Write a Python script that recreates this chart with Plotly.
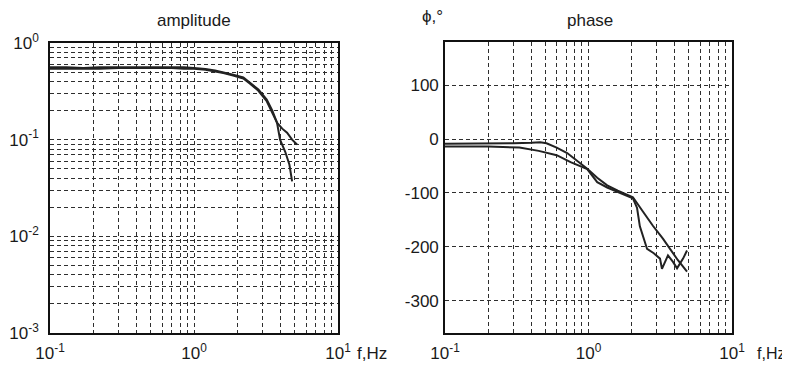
import plotly.graph_objects as go

# ---------------- data ----------------
amp1_f = [0.1, 0.13, 0.17, 0.22, 0.3, 0.4, 0.55, 0.7, 0.85, 1.0, 1.2, 1.4, 1.6, 1.87, 2.2, 2.45, 2.8, 3.2, 3.5, 3.77, 4.1, 4.43, 4.8, 5.19]
amp1_v = [0.56, 0.56, 0.55, 0.56, 0.56, 0.56, 0.57, 0.56, 0.56, 0.55, 0.54, 0.52, 0.50, 0.47, 0.44, 0.39, 0.33, 0.26, 0.20, 0.15, 0.13, 0.118, 0.10, 0.089]
amp2_f = [0.1, 0.13, 0.17, 0.22, 0.3, 0.4, 0.55, 0.7, 0.85, 1.0, 1.2, 1.4, 1.6, 1.87, 2.2, 2.45, 2.8, 3.2, 3.5, 3.77, 3.96, 4.3, 4.6, 4.8]
amp2_v = [0.54, 0.54, 0.54, 0.54, 0.55, 0.55, 0.55, 0.55, 0.54, 0.54, 0.53, 0.51, 0.49, 0.46, 0.43, 0.38, 0.32, 0.25, 0.19, 0.15, 0.10, 0.075, 0.055, 0.037]

ph1_f = [0.1, 0.15, 0.2, 0.3, 0.4, 0.46, 0.51, 0.6, 0.71, 0.85, 0.98, 1.15, 1.35, 1.6, 2.04, 2.4, 2.81, 3.3, 3.7, 4.2, 4.86]
ph1_v = [-9, -9, -9, -8, -7, -6, -8, -16, -26, -42, -55, -72, -86, -96, -108, -135, -161, -185, -204, -225, -246]
ph2_f = [0.1, 0.15, 0.2, 0.33, 0.45, 0.6, 0.75, 0.98, 1.15, 1.35, 1.6, 2.04, 2.18, 2.28, 2.56, 2.85, 3.15, 3.25, 3.58, 3.88, 4.14, 4.56, 4.86]
ph2_v = [-14, -14, -14, -16, -22, -30, -43, -56, -80, -90, -98, -110, -128, -162, -204, -212, -222, -241, -216, -228, -240, -222, -207]

amp_ticks = [1e-3, 1e-2, 1e-1, 1e0]
amp_ticktext = ["10<sup>-3</sup>", "10<sup>-2</sup>", "10<sup>-1</sup>", "10<sup>0</sup>"]
f_ticks = [0.1, 1.0, 10.0]
f_ticktext = ["10<sup>-1</sup>", "10<sup>0</sup>", "10<sup>1</sup>"]
ph_ticks = [-300, -200, -100, 0, 100]
ph_ticktext = ["-300", "-200", "-100", "0", "100"]


def log_grid(decades):
    vals = []
    for d in decades:
        for m in range(1, 10):
            vals.append(m * 10 ** d)
    return vals


LINE = dict(color="#222222", width=2)
FONT = "Liberation Sans, Arial, sans-serif"
TXT = dict(family=FONT, size=17, color="#1a1a1a")

fig = go.Figure()
fig.add_trace(go.Scatter(x=amp1_f, y=amp1_v, mode="lines", line=LINE, xaxis="x", yaxis="y", showlegend=False))
fig.add_trace(go.Scatter(x=amp2_f, y=amp2_v, mode="lines", line=LINE, xaxis="x", yaxis="y", showlegend=False))
fig.add_trace(go.Scatter(x=ph1_f, y=ph1_v, mode="lines", line=LINE, xaxis="x2", yaxis="y2", showlegend=False))
fig.add_trace(go.Scatter(x=ph2_f, y=ph2_v, mode="lines", line=LINE, xaxis="x2", yaxis="y2", showlegend=False))

W, H = 790, 374
OFF = 8  # page body margin


def px(x):
    return (x - OFF) / W


def py(y):
    return 1 - (y - OFF) / H


fx_vals = log_grid([-1, 0]) + [10.0]
fx_text = [f_ticktext[f_ticks.index(v)] if v in f_ticks else "" for v in fx_vals]
ay_vals = log_grid([-3, -2, -1]) + [1.0]
ay_text = [amp_ticktext[amp_ticks.index(v)] if v in amp_ticks else "" for v in ay_vals]

grid = dict(showgrid=True, gridcolor="#2e2e2e", gridwidth=1, griddash="4px,3px",
            showline=True, linecolor="#111", linewidth=1.6, mirror=True,
            ticks="", zeroline=False, automargin=False, tickfont=TXT)

fig.update_layout(
    width=W, height=H,
    margin=dict(l=0, r=0, t=0, b=0),
    paper_bgcolor="white", plot_bgcolor="white",
    xaxis=dict(type="log", range=[-1, 1], domain=[px(50), px(338)], anchor="y",
               tickmode="array", tickvals=fx_vals, ticktext=fx_text, ticklabelstandoff=4, **grid),
    yaxis=dict(type="log", range=[-3, 0], domain=[py(333), py(43)], anchor="x",
               tickmode="array", tickvals=ay_vals, ticktext=ay_text, ticklabelstandoff=6, **grid),
    xaxis2=dict(type="log", range=[-1, 1], domain=[px(445), px(732)], anchor="y2",
                tickmode="array", tickvals=fx_vals, ticktext=fx_text, ticklabelstandoff=4, **grid),
    yaxis2=dict(range=[-360, 180], domain=[py(333), py(42)], anchor="x2",
                tickmode="array", tickvals=ph_ticks, ticktext=ph_ticktext, ticklabelstandoff=1, **grid),
    annotations=[
        dict(text="amplitude", x=px(194), y=py(20), xanchor="center", yanchor="middle"),
        dict(text="phase", x=px(590), y=py(20), xanchor="center", yanchor="middle"),
        dict(text="ϕ,°", x=px(432), y=py(17), xanchor="center", yanchor="middle"),
        dict(text="f,Hz", x=px(355), y=py(353), xanchor="left", yanchor="middle"),
        dict(text="f,Hz", x=px(755), y=py(353), xanchor="left", yanchor="middle",
             font=dict(family=FONT, size=16, color="#1a1a1a")),
    ],
)
fig.update_annotations(xref="paper", yref="paper", showarrow=False, selector=dict())
for a in fig.layout.annotations:
    if a.font.size is None:
        a.font = TXT

fig.write_html("out.html")
